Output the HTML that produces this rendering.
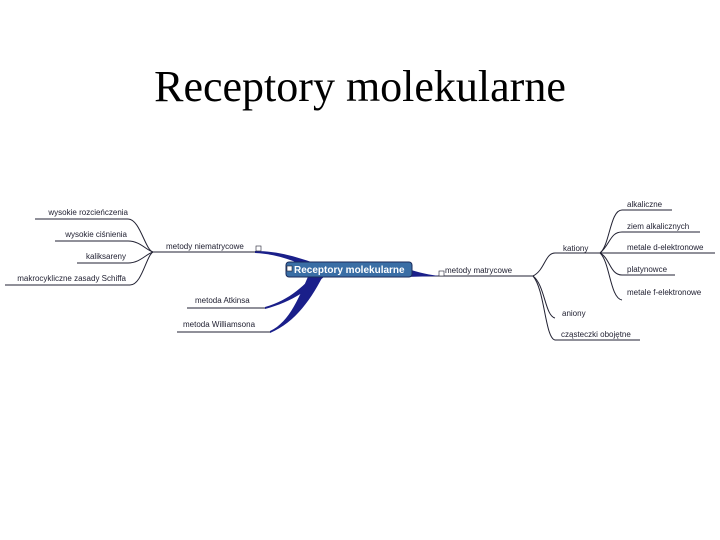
<!DOCTYPE html>
<html><head><meta charset="utf-8"><style>
body{margin:0;background:#fff;width:720px;height:540px;overflow:hidden}
svg{display:block}
.t{font-family:"Liberation Sans",sans-serif;font-size:8px;fill:#223}
</style></head><body>
<svg width="720" height="540" viewBox="0 0 720 540">
<text x="360" y="101" text-anchor="middle" font-family="Liberation Serif,serif" font-size="44" fill="#000">Receptory molekularne</text>
<g fill="none" stroke="#223" stroke-width="1">
<path d="M35 219H128 C140 219 145 250 153 252"/>
<path d="M55 241H128 C140 241 146 250 153 252"/>
<path d="M77 263H128 C140 263 146 254 153 252"/>
<path d="M5 285H130 C142 285 146 256 153 252"/>
<path d="M153 252H255"/>
<path d="M400 276H533"/>
<path d="M533 276 C545 270 545 253 555 253 H600"/>
<path d="M533 276 C545 285 545 316 555 318"/>
<path d="M533 276 C545 290 545 338 555 340 H640"/>
<path d="M600 253 C610 245 610 210 622 210 H672"/>
<path d="M600 253 C610 245 610 232 622 232 H700"/>
<path d="M600 253 H715"/>
<path d="M600 253 C610 258 610 275 622 275 H675"/>
<path d="M600 253 C610 262 610 298 622 300"/>
<path d="M187 308H265"/>
<path d="M177 332H270"/>
</g>
<g fill="#1a1f8a">
<path d="M255 251 C280 251 300 258 320 265 L320 272 C298 263 280 254 255 253Z"/>
<path d="M265 307 C290 300 305 285 320 268 L332 270 C312 288 292 302 265 309Z"/>
<path d="M270 331 C290 322 300 295 310 272 L325 272 C312 298 296 322 270 333Z"/>
<path d="M405 268 C420 273 430 275 440 276 L405 277Z"/>
</g>
<rect x="286" y="262" width="126" height="15" rx="3" fill="#3a6ea5" stroke="#1a2a5a"/>
<rect x="287" y="266" width="5" height="5" fill="#fff" stroke="#223" stroke-width="0.6"/>
<text x="294" y="273" font-family="Liberation Sans,sans-serif" font-size="10" font-weight="bold" fill="#fff">Receptory molekularne</text>
<rect x="439" y="271" width="5" height="5" fill="#fff" stroke="#223" stroke-width="0.6"/>
<rect x="256" y="246" width="5" height="5" fill="#fff" stroke="#223" stroke-width="0.6"/>
<text class="t" x="128" y="215" text-anchor="end">wysokie rozcieńczenia</text>
<text class="t" x="127" y="237" text-anchor="end">wysokie ciśnienia</text>
<text class="t" x="126" y="259" text-anchor="end">kaliksareny</text>
<text class="t" x="126" y="281" text-anchor="end">makrocykliczne zasady Schiffa</text>
<text class="t" x="166" y="249" font-size="9">metody niematrycowe</text>
<text class="t" x="195" y="303">metoda Atkinsa</text>
<text class="t" x="183" y="327">metoda Williamsona</text>
<text class="t" x="445" y="273" font-size="9">metody matrycowe</text>
<text class="t" x="563" y="251">kationy</text>
<text class="t" x="627" y="207">alkaliczne</text>
<text class="t" x="627" y="229">ziem alkalicznych</text>
<text class="t" x="627" y="250">metale d-elektronowe</text>
<text class="t" x="627" y="272">platynowce</text>
<text class="t" x="627" y="295">metale f-elektronowe</text>
<text class="t" x="562" y="316">aniony</text>
<text class="t" x="561" y="337">cząsteczki obojętne</text>
</svg>
</body></html>
